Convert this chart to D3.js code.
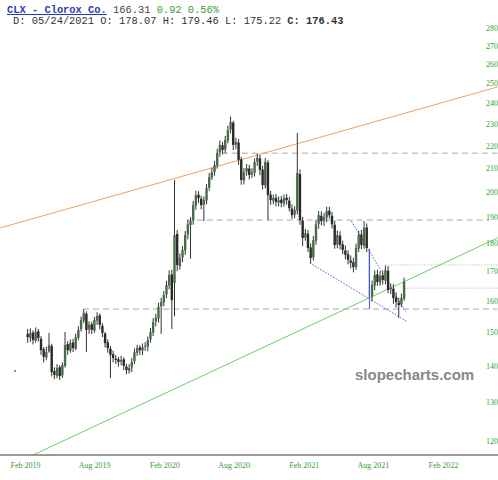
<!DOCTYPE html>
<html>
<head>
<meta charset="utf-8">
<script src="https://cdn.jsdelivr.net/npm/d3@7"></script>
<style>
  body { margin: 0; background: #fff; }
  svg { display: block; }
</style>
</head>
<body>
<svg id="chart"></svg>
<script>
var screen = {width: 498, height: 480}

// weekly candles, first week ends Feb 8 2019
var firstWeek = "2019-02-08"
var opens = [149.5,148.3,149.9,147.4,150.3,148.0,144.9,142.4,144.2,145.8,
  138.5,137.2,139.6,137.3,140.0,146.4,144.4,146.9,145.0,148.3,
  150.9,153.6,155.8,150.9,152.5,150.5,153.6,155.3,152.0,149.6,
  146.9,145.0,143.4,142.1,141.9,141.3,141.9,139.8,138.6,139.6,
  141.3,143.8,145.4,144.4,145.7,145.6,147.8,149.9,153.4,154.3,
  158.2,159.4,162.1,165.1,168.9,166.0,183.5,171.8,174.9,177.4,
  183.3,187.0,188.6,194.5,198.9,197.3,194.9,196.5,201.8,206.0,
  208.5,211.2,216.9,220.1,218.2,222.3,227.3,230.6,220.5,221.4,
  213.8,204.8,208.5,209.9,207.3,208.1,212.9,214.3,209.4,202.7,
  212.5,198.9,196.5,197.7,195.7,196.9,195.3,197.7,196.5,193.3,
  190.9,192.5,207.5,188.6,182.2,183.6,178.5,174.9,181.0,187.4,
  190.5,188.6,189.8,192.5,190.5,187.0,179.6,182.9,179.6,177.4,
  176.0,173.8,173.2,171.6,178.1,183.3,179.2,186.0,177.6,161.4,
  165.1,168.9,166.1,168.6,166.8,170.2,163.8,164.0,161.1,159.4,
  158.8,160.7]
var highs = [151.0,151.2,150.6,151.5,151.0,148.8,145.5,145.6,149.8,146.5,
  139.6,140.5,140.2,141.0,150.1,147.3,147.8,148.0,149.6,151.8,
  154.9,157.2,156.6,153.4,153.3,154.8,156.3,155.9,152.8,150.1,
  147.8,145.8,144.4,143.1,142.6,142.9,142.5,140.6,140.5,142.3,
  145.1,146.2,146.1,146.6,147.0,148.7,151.3,154.4,155.8,159.3,
  161.0,163.2,166.7,170.3,170.5,205.0,185.0,176.3,179.0,184.6,
  188.9,190.0,196.3,200.5,200.3,198.5,198.2,203.3,208.0,210.2,
  213.2,218.6,222.3,221.6,224.4,229.2,233.5,231.5,223.5,223.0,
  215.0,210.0,211.8,211.5,210.0,214.3,216.3,215.8,211.0,214.4,
  213.5,200.5,199.0,199.2,198.2,198.4,199.0,199.2,198.0,195.0,
  194.3,225.7,209.5,190.0,185.4,185.0,180.0,182.8,188.9,192.3,
  192.2,191.6,194.0,194.0,192.0,188.6,184.8,184.5,181.0,179.2,
  177.5,175.6,174.8,179.9,184.7,185.0,188.4,187.5,178.0,166.8,
  170.3,170.5,170.0,170.2,172.0,171.8,165.8,165.6,162.8,161.0,
  162.4,167.8]
var lows = [146.8,147.0,146.3,146.8,147.2,143.2,141.0,141.6,143.8,137.0,
  136.2,136.5,136.0,136.6,139.5,143.2,143.8,144.0,144.6,147.5,
  150.2,152.8,144.0,149.5,149.4,149.8,152.3,150.9,148.5,145.4,
  143.8,136.5,141.0,140.5,139.8,140.2,138.8,137.6,137.8,138.2,
  140.5,142.9,143.2,143.1,144.4,144.3,146.8,148.8,151.8,153.0,
  149.5,158.2,160.8,163.8,151.0,155.0,170.0,170.5,173.2,175.8,
  181.5,174.4,187.0,192.8,195.5,193.0,188.4,195.0,200.5,205.0,
  206.8,209.8,215.0,216.0,216.5,221.0,225.5,218.0,218.4,211.5,
  203.0,203.1,206.8,205.2,205.9,206.4,211.0,207.0,201.0,201.5,
  188.8,194.8,195.0,194.2,194.2,193.8,194.0,194.8,192.2,189.2,
  189.5,191.0,187.0,179.0,181.0,176.8,172.8,173.8,179.5,185.5,
  186.8,186.5,188.0,189.4,185.6,178.0,178.2,177.8,176.0,174.2,
  172.4,171.0,169.6,170.5,176.8,177.9,178.0,176.8,157.3,159.8,
  163.5,165.0,165.0,165.4,165.5,162.5,162.2,159.0,157.8,154.5,
  158.0,160.0]
var closes = [148.5,149.8,147.6,150.1,148.2,144.6,142.6,144.0,146.1,138.2,
  137.4,139.4,137.1,140.2,146.1,144.6,146.7,145.2,148.5,150.7,
  153.8,156.1,150.7,152.3,150.7,153.8,155.1,152.3,149.8,146.7,
  145.2,143.2,142.3,141.7,141.1,141.7,140.0,138.8,139.4,141.1,
  144.0,145.2,144.6,145.5,145.8,147.6,150.1,153.2,154.5,158.0,
  159.6,161.9,165.3,168.7,160.2,183.1,172.2,174.7,177.6,183.1,
  187.2,188.4,194.7,198.7,197.5,194.7,196.7,201.6,206.2,208.3,
  211.4,216.7,220.3,218.0,222.5,227.1,230.9,220.3,221.6,213.6,
  205.0,208.3,210.1,207.1,208.3,212.7,214.5,209.2,202.9,212.7,
  198.7,196.7,197.5,195.9,196.7,195.5,197.5,196.7,193.5,190.7,
  192.7,208.0,188.8,182.0,183.8,178.3,174.7,181.2,187.2,190.7,
  188.4,190.0,192.3,190.7,187.2,179.4,183.1,179.4,177.6,175.8,
  174.0,173.0,171.4,178.3,183.1,179.4,185.8,178.3,161.2,165.3,
  168.7,166.3,168.4,167.0,170.4,163.6,164.2,160.9,159.6,158.6,
  160.9,166.3]
var gapWeek = "2021-07-23" // the earnings gap candle drawn in blue

var yTicks = [120,130,140,150,160,170,180,190,200,210,220,230,240,250,260,270,280]
var xTicks = ["2019-02-01","2019-08-01","2020-02-01","2020-08-01","2021-02-01","2021-08-01","2022-02-01"]

// drawn lines: [date, price] end points
var orangeLine = [["2018-11-28",185.8],["2022-06-24",248.1]]
var greenLine = [["2019-02-22",116.6],["2022-06-24",182.0]]
var wedgeLow = [["2021-02-17",172.9],["2021-10-31",153.2]]
var wedgeHigh = [["2021-06-06",188.4],["2021-10-26",156.4]]
var dashedLevels = [{from:"2020-07-01",price:216.6,to:"2022-06-24"},
                    {from:"2020-03-31",price:188.8,to:"2022-06-01"},
                    {from:"2019-07-03",price:157.3,to:"2022-06-24"}]
var dottedLevels = [{from:"2021-09-03",price:172.2},{from:"2021-10-23",price:164.2}]
var markerDot = ["2019-01-06",138.5]

var parse = d3.timeParse("%Y-%m-%d")
var start = parse(firstWeek)
var candles = closes.map(function(c,i){
  return {date:d3.timeDay.offset(start,i*7),o:opens[i],h:highs[i],l:lows[i],c:c}
})

var svg = d3.select("#chart")
  .attr("width",screen.width)
  .attr("height",screen.height)

var xScale = d3.scaleTime()
  .domain([parse("2019-02-01"),parse("2022-02-01")])
  .range([25,443])
var yScale = d3.scaleLog()
  .domain([120,280])
  .range([441,28])

svg.append("defs").append("clipPath").attr("id","plot")
  .append("rect").attr("x",0).attr("y",0).attr("width",498).attr("height",455)

var plot = svg.append("g").attr("clip-path","url(#plot)")

var pt = function(d){ return [xScale(parse(d[0])),yScale(d[1])] }

//horizontal levels
dashedLevels.forEach(function(l){
  plot.append("line")
    .attr("x1",xScale(parse(l.from))).attr("x2",xScale(parse(l.to)))
    .attr("y1",yScale(l.price)).attr("y2",yScale(l.price))
    .attr("stroke","#aaa").attr("stroke-width",1).attr("stroke-dasharray","6,4")
})
dottedLevels.forEach(function(l){
  plot.append("line")
    .attr("x1",xScale(parse(l.from))).attr("x2",498)
    .attr("y1",yScale(l.price)).attr("y2",yScale(l.price))
    .attr("stroke","#aaa").attr("stroke-width",1).attr("stroke-dasharray","1,2")
})

//trend lines
var drawLine = function(pts,color,dash){
  var a = pt(pts[0]), b = pt(pts[1])
  var ln = plot.append("line")
    .attr("x1",a[0]).attr("y1",a[1]).attr("x2",b[0]).attr("y2",b[1])
    .attr("stroke",color).attr("stroke-width",1)
  if(dash) ln.attr("stroke-dasharray",dash)
}
drawLine(orangeLine,"#f0a060")
drawLine(greenLine,"#66d166")
drawLine(wedgeLow,"#5a5ae0","1.5,1.5")
drawLine(wedgeHigh,"#5a5ae0","1.5,1.5")

//candles
var bw = 2.4
var isGap = function(d){ return d3.timeFormat("%Y-%m-%d")(d.date)==gapWeek }
var g = plot.append("g").attr("id","candles")
g.selectAll("line.wick").data(candles).enter().append("line")
  .attr("class","wick")
  .attr("x1",function(d){return xScale(d.date)})
  .attr("x2",function(d){return xScale(d.date)})
  .attr("y1",function(d){return yScale(d.h)})
  .attr("y2",function(d){return yScale(d.l)})
  .attr("stroke",function(d){return isGap(d) ? "#4a55d8" : "#333"})
  .attr("stroke-width",1)
g.selectAll("rect").data(candles).enter().append("rect")
  .attr("x",function(d){return xScale(d.date)-(isGap(d)?0.6:bw/2)})
  .attr("width",function(d){return isGap(d)?1.2:bw})
  .attr("y",function(d){return yScale(Math.max(d.o,d.c))})
  .attr("height",function(d){return Math.max(0.8,yScale(Math.min(d.o,d.c))-yScale(Math.max(d.o,d.c)))})
  .attr("fill",function(d){
    if(isGap(d)) return "#4a55d8"
    return d.c>=d.o ? "#4a6b4a" : "#2a2a2a"
  })

plot.append("circle")
  .attr("cx",pt(markerDot)[0]).attr("cy",pt(markerDot)[1])
  .attr("r",1).attr("fill","#5a5ae0")

//axes
var yAxis = d3.axisRight(yScale).tickValues(yTicks).tickSize(0).tickFormat(d3.format("d"))
svg.append("g").attr("transform","translate(483,0)").call(yAxis)
  .call(function(a){a.select(".domain").remove()})
  .selectAll("text")
  .attr("fill","#34a034")
  .attr("font-family","Liberation Serif, serif")
  .attr("font-size",8)

var xAxis = d3.axisBottom(xScale).tickValues(xTicks.map(parse)).tickSize(0).tickFormat(d3.timeFormat("%b %Y"))
svg.append("g").attr("transform","translate(0,459)").call(xAxis)
  .call(function(a){a.select(".domain").remove()})
  .selectAll("text")
  .attr("fill","#34a034")
  .attr("font-family","Liberation Serif, serif")
  .attr("font-size",8)

svg.append("line").attr("x1",0).attr("x2",498).attr("y1",455).attr("y2",455)
  .attr("stroke","#777").attr("stroke-width",1.5)

//watermark
svg.append("text").attr("x",355).attr("y",380)
  .attr("font-family","Liberation Sans, Arial, sans-serif").attr("font-weight","bold")
  .attr("font-size",15).attr("fill","#888").text("slopecharts.com")

//header
var h1 = svg.append("text").attr("x",7).attr("y",13)
  .attr("font-family","Liberation Mono, monospace").attr("font-size",10.4)
h1.append("tspan").attr("font-weight","bold").attr("fill","#2a3cb0")
  .attr("text-decoration","underline").text("CLX - Clorox Co.")
h1.append("tspan").attr("fill","#444").text(" 166.31 ")
h1.append("tspan").attr("fill","#3a9a3a").text("0.92 0.56%")

var h2 = svg.append("text").attr("x",13).attr("y",24)
  .attr("font-family","Liberation Mono, monospace").attr("font-size",10.4).attr("fill","#333")
  .attr("xml:space","preserve")
h2.append("tspan").text("D: 05/24/2021 O: 178.07 H: 179.46 L: 175.22 ")
h2.append("tspan").attr("font-weight","bold").text("C: 176.43")
</script>
</body>
</html>
